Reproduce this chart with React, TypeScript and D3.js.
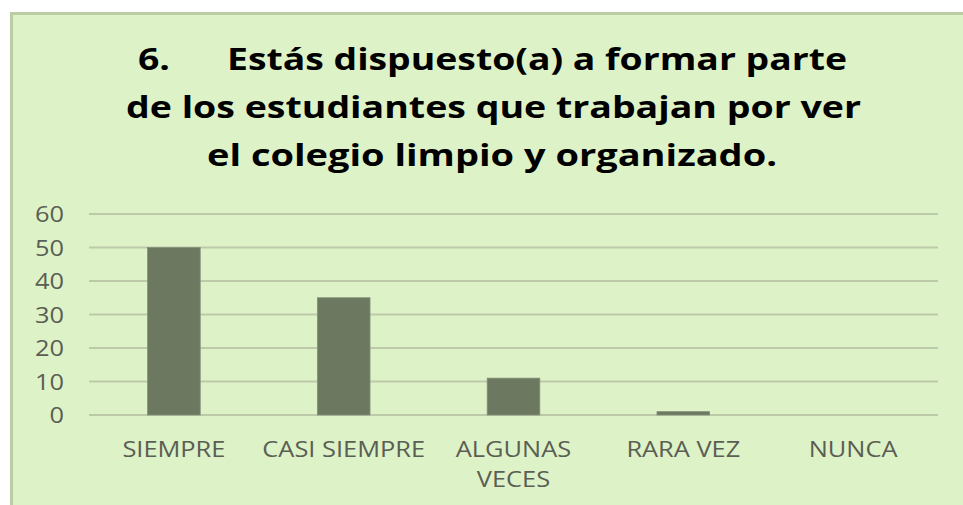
import React from "react";
import * as d3 from "d3";

const categories = ["SIEMPRE", "CASI SIEMPRE", "ALGUNAS VECES", "RARA VEZ", "NUNCA"];
const categoryLines = [["SIEMPRE"], ["CASI SIEMPRE"], ["ALGUNAS", "VECES"], ["RARA VEZ"], ["NUNCA"]];
const values = [50, 35, 11, 1, 0];
const yTicks = [0, 10, 20, 30, 40, 50, 60];
const titleNumber = "6.";
const titleLines = [
  "Estás dispuesto(a) a formar parte",
  "de los estudiantes que trabajan por ver",
  "el colegio limpio y organizado.",
];

const W = 963;
const H = 505;
const BG = "#def2c7";
const BORDER = "#b9cca3";
const GRID = "#bccaa9";
const BAR = "#6c785f";
const BAR_STROKE = "#84907a";
const LABEL = "#5a5e54";
const FONT = "'Open Sans', 'Liberation Sans', sans-serif";
const LABEL_SIZE = 21;
const LABEL_SX = 1.21;

export default function App() {
  const x = d3
    .scaleBand<string>()
    .domain(categories)
    .range([89, 938])
    .paddingInner(0.69)
    .paddingOuter(0.345);
  const y = d3.scaleLinear().domain([0, 60]).range([415, 214]);

  const titleLayout = [
    { x: 227, w: 620, y: 70 },
    { x: 126, w: 735, y: 118 },
    { x: 207, w: 570, y: 166 },
  ];

  return (
    <svg
      width={W}
      height={H}
      style={{ position: "absolute", left: 0, top: 0, background: "#ffffff" }}
    >
      <rect x={11.5} y={13.5} width={W + 20} height={H + 20} fill={BG} stroke={BORDER} strokeWidth={3} />

      <g fontFamily={FONT} fontWeight={700} fontSize={30} fill="#000">
        <text x={138} y={70} textLength={32} lengthAdjust="spacingAndGlyphs">
          {titleNumber}
        </text>
        {titleLines.map((t, i) => (
          <text
            key={i}
            x={titleLayout[i].x}
            y={titleLayout[i].y}
            textLength={titleLayout[i].w}
            lengthAdjust="spacingAndGlyphs"
          >
            {t}
          </text>
        ))}
      </g>

      <g stroke={GRID} strokeWidth={2}>
        {yTicks.map((t) => (
          <line key={t} x1={89} x2={938} y1={y(t)} y2={y(t)} />
        ))}
      </g>

      <g fontFamily={FONT} fontSize={LABEL_SIZE} fill={LABEL}>
        {yTicks.map((t) => (
          <text
            key={t}
            transform={`translate(64,${y(t)}) scale(${LABEL_SX},1)`}
            textAnchor="end"
            dominantBaseline="central"
          >
            {t}
          </text>
        ))}
      </g>

      <g>
        {categories.map((c, i) =>
          values[i] > 0 ? (
            <rect
              key={c}
              x={x(c)!}
              y={y(values[i])}
              width={x.bandwidth()}
              height={y(0) - y(values[i])}
              fill={BAR}
              stroke={BAR_STROKE}
              strokeWidth={0.8}
            />
          ) : null
        )}
      </g>

      <g fontFamily={FONT} fontSize={LABEL_SIZE} fill={LABEL}>
        {categories.map((c, i) =>
          categoryLines[i].map((line, j) => (
            <text
              key={c + j}
              transform={`translate(${x(c)! + x.bandwidth() / 2},${457 + j * 30}) scale(${LABEL_SX},1)`}
              textAnchor="middle"
            >
              {line}
            </text>
          ))
        )}
      </g>
    </svg>
  );
}
